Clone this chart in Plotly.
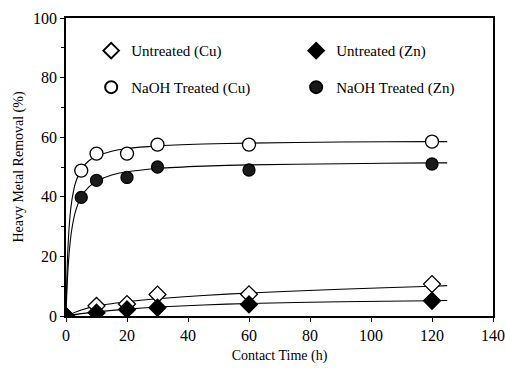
import plotly.graph_objects as go

# Measured removal (%) at each contact time (h)
time_h = [0, 10, 20, 30, 60, 120]
untreated_cu = [0, 3.4, 4.0, 7.2, 7.3, 10.7]
untreated_zn = [0, 1.1, 2.2, 2.8, 3.9, 5.1]

time_treated = [5, 10, 20, 30, 60, 120]
naoh_cu = [48.8, 54.5, 54.5, 57.5, 57.5, 58.5]
naoh_zn = [39.8, 45.5, 46.5, 50.0, 49.0, 51.0]

# Fitted kinetic curves
fit_t = [0, 0.3, 0.6, 1, 1.5, 2, 3, 5, 7.5, 10, 15, 20, 30, 45, 60, 90, 120, 125]
fit_naoh_cu = [0, 13.6, 22.1, 29.5, 35.4, 39.3, 44.3, 49.2, 52.1, 53.6, 55.3, 56.2,
               57.1, 57.7, 58.0, 58.4, 58.5, 58.5]
fit_naoh_zn = [0, 8.7, 14.9, 20.8, 26.0, 29.7, 34.7, 40.0, 43.3, 45.2, 47.3, 48.4,
               49.5, 50.3, 50.7, 51.1, 51.4, 51.4]
fit_t_untreated = [0, 5, 10, 20, 30, 45, 60, 90, 120, 125]
fit_untreated_cu = [0, 2.0, 3.4, 4.8, 5.8, 6.9, 7.7, 9.0, 10.0, 10.2]
fit_untreated_zn = [0, 0.8, 1.4, 2.3, 3.0, 3.7, 4.2, 4.8, 5.1, 5.2]

x_ticks = [0, 20, 40, 60, 80, 100, 120, 140]
y_ticks = [0, 20, 40, 60, 80, 100]

FONT = "Liberation Serif"
line_style = dict(color="black", width=1.1, shape="spline", smoothing=0.6)

fig = go.Figure()

for xs, ys in [(fit_t, fit_naoh_cu), (fit_t, fit_naoh_zn),
               (fit_t_untreated, fit_untreated_cu), (fit_t_untreated, fit_untreated_zn)]:
    fig.add_trace(go.Scatter(x=xs, y=ys, mode="lines", line=line_style,
                             showlegend=False, hoverinfo="skip"))

marker_line = dict(color="black", width=1.3)
fig.add_trace(go.Scatter(
    x=time_h, y=untreated_cu, mode="markers", name="Untreated (Cu)",
    marker=dict(symbol="diamond", size=13, color="white", line=marker_line),
    legend="legend", legendgroup="a"))
fig.add_trace(go.Scatter(
    x=time_treated, y=naoh_cu, mode="markers", name="NaOH Treated (Cu)",
    marker=dict(symbol="circle", size=13, color="white", line=marker_line),
    legend="legend", legendgroup="b"))
fig.add_trace(go.Scatter(
    x=time_h, y=untreated_zn, mode="markers", name="Untreated (Zn)",
    marker=dict(symbol="diamond", size=13, color="black", line=marker_line),
    legend="legend2", legendgroup="c"))
fig.add_trace(go.Scatter(
    x=time_treated, y=naoh_zn, mode="markers", name="NaOH Treated (Zn)",
    marker=dict(symbol="circle", size=12, color="#1a1a1a", line=marker_line),
    legend="legend2", legendgroup="d"))

legend_common = dict(
    bgcolor="rgba(0,0,0,0)", borderwidth=0,
    font=dict(family=FONT, size=15, color="black"),
    tracegroupgap=14, itemsizing="constant",
    xanchor="left", yanchor="top", orientation="v",
)

fig.update_layout(
    width=505, height=370,
    margin=dict(l=66, r=12, t=18, b=54, autoexpand=False),
    paper_bgcolor="white", plot_bgcolor="white",
    font=dict(family=FONT, size=15, color="black"),
    showlegend=True,
    legend=dict(x=0.059, y=0.945, **legend_common),
    legend2=dict(x=0.539, y=0.945, **legend_common),
    xaxis=dict(
        range=[0, 140], tickvals=x_ticks, ticktext=[str(v) for v in x_ticks],
        showgrid=False, zeroline=False, automargin=False,
        showline=True, linecolor="black", linewidth=1.6, mirror=True,
        ticks="outside", ticklen=4, tickwidth=1, tickcolor="black",
        tickfont=dict(family=FONT, size=16),
        title=dict(text="Contact Time (h)", font=dict(family=FONT, size=14), standoff=7),
    ),
    yaxis=dict(
        range=[0, 100], tickvals=y_ticks, ticktext=[str(v) for v in y_ticks],
        showgrid=False, zeroline=False, automargin=False,
        showline=True, linecolor="black", linewidth=1.6, mirror=True,
        ticks="outside", ticklen=4, tickwidth=1, tickcolor="black",
        minor=dict(dtick=10, ticks="outside", ticklen=3, tickcolor="black", showgrid=False),
        tickfont=dict(family=FONT, size=16),
        title=dict(text="Heavy Metal Removal (%)", font=dict(family=FONT, size=14), standoff=6),
    ),
)

fig.write_html("out.html")
